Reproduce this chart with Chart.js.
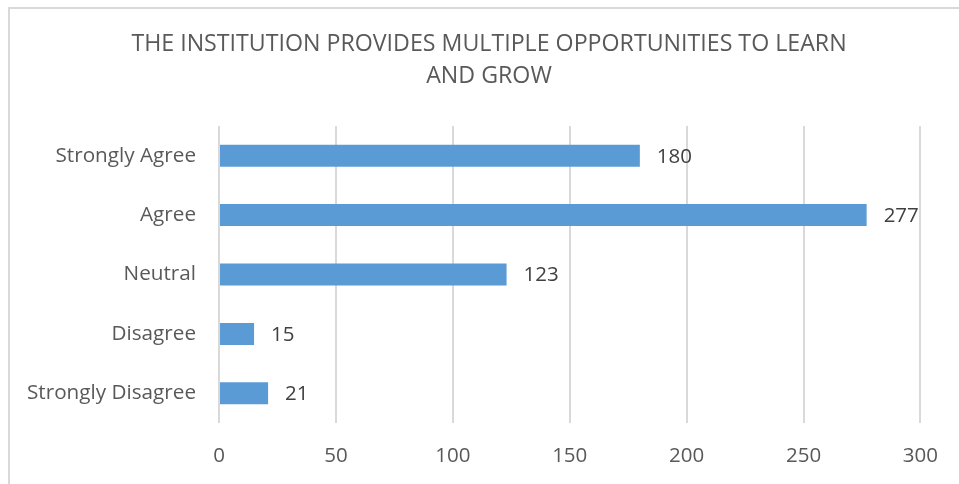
<!DOCTYPE html>
<html>
<head>
<meta charset="utf-8">
<script src="https://cdn.jsdelivr.net/npm/chart.js@4.4.1/dist/chart.umd.min.js"></script>
<style>
    body { margin: 0; background: #fff; }
    #wrap { position: relative; width: 959px; height: 484px; }
</style>
</head>
<body>
<div id="wrap"><canvas id="chart"></canvas></div>
<script>
const titleLines = ['THE INSTITUTION PROVIDES MULTIPLE OPPORTUNITIES TO LEARN', 'AND GROW'];
const categories = ['Strongly Agree', 'Agree', 'Neutral', 'Disagree', 'Strongly Disagree'];
const responses = [180, 277, 123, 15, 21];
const xTicks = [0, 50, 100, 150, 200, 250, 300];

const FONT = "'Open Sans', sans-serif";

// outer frame of the chart (only top and left edges are visible)
const framePlugin = {
    id: 'frame',
    beforeDraw(chart) {
        const ctx = chart.ctx;
        ctx.save();
        ctx.strokeStyle = '#d9d9d9';
        ctx.lineWidth = 2;
        ctx.beginPath();
        ctx.moveTo(9, chart.height + 2);
        ctx.lineTo(9, 8);
        ctx.lineTo(chart.width + 2, 8);
        ctx.stroke();
        ctx.restore();
    }
};

// title is centred on the full frame, which runs past the right edge of the picture
const titlePlugin = {
    id: 'frameTitle',
    afterDraw(chart) {
        const ctx = chart.ctx;
        ctx.save();
        ctx.fillStyle = '#595959';
        ctx.font = '23.2px ' + FONT;
        ctx.textAlign = 'center';
        ctx.textBaseline = 'middle';
        titleLines.forEach((line, i) => {
            ctx.fillText(line, 489, 44 + i * 32);
        });
        ctx.restore();
    }
};

// value labels at the end of each bar
const valueLabels = {
    id: 'valueLabels',
    afterDatasetsDraw(chart) {
        const ctx = chart.ctx;
        const meta = chart.getDatasetMeta(0);
        ctx.save();
        ctx.fillStyle = '#404040';
        ctx.font = '20.5px ' + FONT;
        ctx.textAlign = 'left';
        ctx.textBaseline = 'middle';
        meta.data.forEach((bar, i) => {
            ctx.fillText(String(responses[i]), bar.x + 17, bar.y + 1);
        });
        ctx.restore();
    }
};

new Chart(document.getElementById('chart'), {
    type: 'bar',
    data: {
        labels: categories,
        datasets: [{
            data: responses,
            backgroundColor: '#5b9bd5',
            categoryPercentage: 1,
            barPercentage: 0.37
        }]
    },
    options: {
        indexAxis: 'y',
        responsive: true,
        maintainAspectRatio: false,
        animation: false,
        layout: { padding: { left: 0, right: 38, top: 126, bottom: 0 } },
        plugins: {
            legend: { display: false },
            tooltip: { enabled: false },
            title: { display: false }
        },
        scales: {
            x: {
                min: 0,
                max: 300,
                afterBuildTicks(axis) {
                    axis.ticks = xTicks.map(v => ({ value: v }));
                },
                afterFit(axis) { axis.height = 61; },
                grid: { color: '#d9d9d9', lineWidth: 2, drawTicks: false },
                border: { display: false },
                ticks: {
                    color: '#595959',
                    font: { family: FONT, size: 20.5 },
                    padding: 21
                }
            },
            y: {
                afterFit(axis) { axis.width = 219; },
                grid: { display: false, drawTicks: false },
                border: { display: false },
                ticks: {
                    color: '#595959',
                    font: { family: FONT, size: 20.7 },
                    padding: 23
                }
            }
        }
    },
    plugins: [framePlugin, titlePlugin, valueLabels]
});
</script>
</body>
</html>
